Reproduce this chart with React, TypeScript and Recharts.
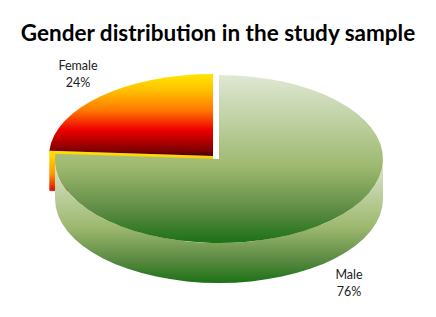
import React from 'react';
import { PieChart, Pie } from 'recharts';

const genders = ['Female', 'Male'];
const shares = [24, 76];

const chartData = genders.map((name, i) => ({ name, value: shares[i] }));

// the first slice has to end at 12 o'clock so Male starts there
const START_ANGLE = 90 + (shares[0] / 100) * 360;

const MALE_SQUASH = 84 / 164;
const FEMALE_SQUASH = 82 / 164;
const DEPTH = 40;
const FEMALE_SHIFT = { x: -6, y: -3 };

const rad = (deg: number) => (deg * Math.PI) / 180;

const EllipseSlice = (props: any) => {
  const { cx, cy, outerRadius, startAngle, endAngle, name } = props;
  const female = name === 'Female';
  const x0 = cx + (female ? FEMALE_SHIFT.x : 0);
  const y0 = cy + (female ? FEMALE_SHIFT.y : 0);
  const rx = outerRadius;
  const ry = outerRadius * (female ? FEMALE_SQUASH : MALE_SQUASH);
  const px = (a: number) => x0 + rx * Math.cos(rad(a));
  const py = (a: number) => y0 - ry * Math.sin(rad(a));
  const large = Math.abs(startAngle - endAngle) > 180 ? 1 : 0;

  const top = `M${x0},${y0} L${px(startAngle)},${py(startAngle)} A${rx},${ry} 0 ${large} 1 ${px(endAngle)},${py(endAngle)} Z`;

  if (female) {
    // cut face along the lower edge of the lifted slice
    const face = `M${x0},${y0} L${px(startAngle)},${py(startAngle)} L${px(startAngle)},${py(startAngle) + DEPTH} L${x0},${y0 + DEPTH} Z`;
    return (
      <g>
        <path d={face} fill="url(#femaleWall)" />
        <path d={top} fill="url(#femaleTop)" />
      </g>
    );
  }

  const wall = `M${x0 + rx},${y0} A${rx},${ry} 0 0 1 ${x0 - rx},${y0} L${x0 - rx},${y0 + DEPTH} A${rx},${ry} 0 0 0 ${x0 + rx},${y0 + DEPTH} Z`;
  return (
    <g>
      <path d={wall} fill="url(#maleWall)" />
      <path d={top} fill="url(#maleTop)" />
    </g>
  );
};

const renderLabel = ({ name, value }: any) => {
  const x = name === 'Female' ? 78 : 349;
  const y = name === 'Female' ? 70 : 279;
  return (
    <text x={x} y={y} textAnchor="middle" fontFamily="Lato" fontSize={12.5} fill="#222">
      <tspan x={x}>{name}</tspan>
      <tspan x={x} dy={17}>{value}%</tspan>
    </text>
  );
};

export default function App() {
  return (
    <div style={{ position: 'absolute', left: 0, top: 0, width: 436, height: 317, background: '#fff' }}>
      <div
        style={{
          position: 'absolute',
          left: 0,
          top: 19,
          width: 436,
          textAlign: 'center',
          fontFamily: 'Lato',
          fontWeight: 700,
          fontSize: 22.5,
          color: '#000',
        }}
      >
        Gender distribution in the study sample
      </div>
      <PieChart width={436} height={317} margin={{ top: 0, right: 0, bottom: 0, left: 0 }}>
        <defs>
          <linearGradient id="femaleTop" x1="0" y1="0" x2="0" y2="1">
            <stop offset="0" stopColor="#FFE600" />
            <stop offset="0.2" stopColor="#FFC000" />
            <stop offset="0.44" stopColor="#FF7A00" />
            <stop offset="0.68" stopColor="#EE0000" />
            <stop offset="0.93" stopColor="#800000" />
            <stop offset="1" stopColor="#4E0000" />
          </linearGradient>
          <linearGradient id="femaleWall" x1="0" y1="0" x2="0" y2="1">
            <stop offset="0" stopColor="#FFE600" />
            <stop offset="0.5" stopColor="#FF9A00" />
            <stop offset="0.9" stopColor="#E00000" />
            <stop offset="1" stopColor="#C00000" />
          </linearGradient>
          <linearGradient id="maleTop" x1="0" y1="0" x2="0" y2="1">
            <stop offset="0" stopColor="#DFE8D4" />
            <stop offset="0.55" stopColor="#9DB86E" />
            <stop offset="0.8" stopColor="#5F8C45" />
            <stop offset="1" stopColor="#1B7115" />
          </linearGradient>
          <linearGradient id="maleWall" x1="0" y1="0" x2="0" y2="1">
            <stop offset="0" stopColor="#DFE8D4" />
            <stop offset="0.55" stopColor="#9DB86E" />
            <stop offset="0.8" stopColor="#5F8C45" />
            <stop offset="1" stopColor="#1B7115" />
          </linearGradient>
        </defs>
        <Pie
          data={chartData}
          dataKey="value"
          nameKey="name"
          cx={219}
          cy={159}
          innerRadius={0}
          outerRadius={164}
          startAngle={START_ANGLE}
          endAngle={START_ANGLE - 360}
          paddingAngle={0}
          stroke="none"
          shape={EllipseSlice}
          label={renderLabel}
          labelLine={false}
          isAnimationActive={false}
        />
      </PieChart>
    </div>
  );
}
